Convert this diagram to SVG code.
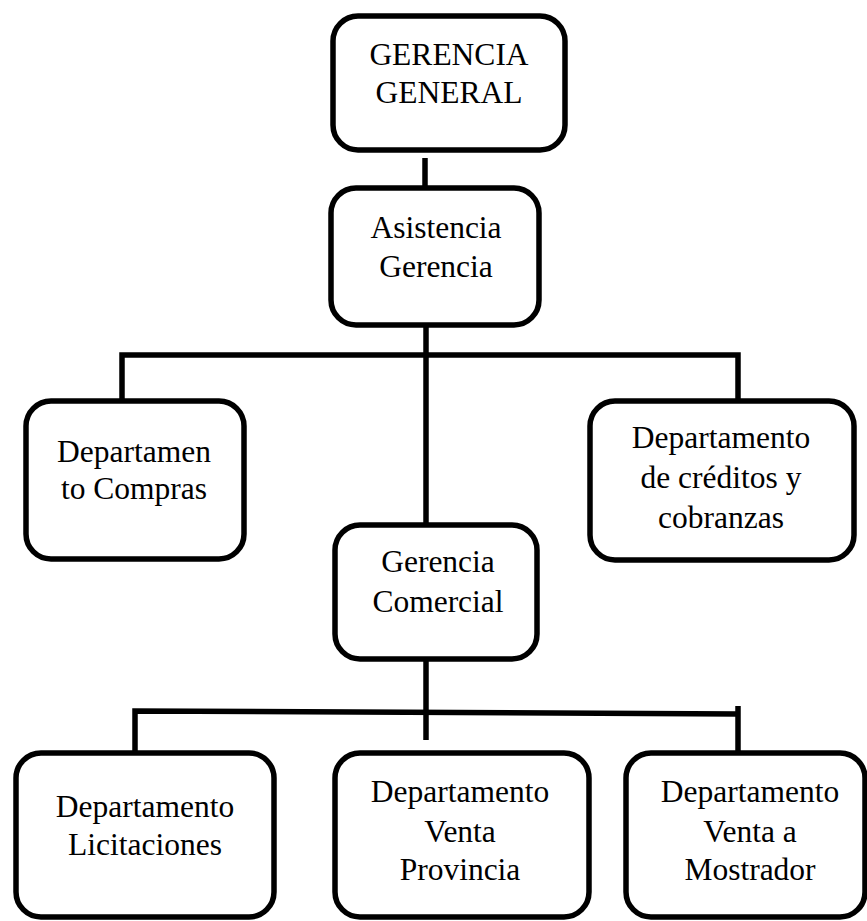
<svg xmlns="http://www.w3.org/2000/svg" width="867" height="921" viewBox="0 0 867 921">
<style>
.box{fill:#fff;stroke:#000;stroke-width:5.5}
.ln{stroke:#000;stroke-width:5.5;fill:none}
text{font-family:"Liberation Serif","Times New Roman",serif;font-size:31.5px;fill:#000;text-anchor:middle}
</style>
<rect width="867" height="921" fill="#fff"/>
<g id="connectors">
<line class="ln" x1="425" y1="158" x2="425" y2="200"/>
<line class="ln" x1="426" y1="326" x2="426" y2="524"/>
<polyline class="ln" points="122,400 122,355 738,355 738,400"/>
<line class="ln" x1="426" y1="660" x2="426" y2="740"/>
<polyline class="ln" points="135,752 135,711 738,714"/>
<line class="ln" x1="738" y1="706" x2="738" y2="752"/>
</g>
<g id="gerencia-general">
<rect class="box" x="333" y="16" width="232" height="134" rx="25"/>
<text x="449" y="65">GERENCIA</text>
<text x="449" y="103">GENERAL</text>
</g>
<g id="asistencia-gerencia">
<rect class="box" x="331" y="188" width="208" height="137" rx="25"/>
<text x="436" y="238">Asistencia</text>
<text x="436" y="277">Gerencia</text>
</g>
<g id="departamento-compras">
<rect class="box" x="26" y="401" width="218" height="158" rx="25"/>
<text x="134" y="462">Departamen</text>
<text x="134" y="499">to Compras</text>
</g>
<g id="departamento-creditos">
<rect class="box" x="590" y="401" width="264" height="159" rx="25"/>
<text x="721" y="448">Departamento</text>
<text x="721" y="488">de créditos y</text>
<text x="721" y="528">cobranzas</text>
</g>
<g id="gerencia-comercial">
<rect class="box" x="335" y="525" width="202" height="134" rx="25"/>
<text x="438" y="572">Gerencia</text>
<text x="438" y="612">Comercial</text>
</g>
<g id="departamento-licitaciones">
<rect class="box" x="16" y="753" width="258" height="164" rx="25"/>
<text x="145" y="817">Departamento</text>
<text x="145" y="855">Licitaciones</text>
</g>
<g id="departamento-venta-provincia">
<rect class="box" x="335" y="753" width="254" height="164" rx="25"/>
<text x="460" y="802">Departamento</text>
<text x="460" y="842">Venta</text>
<text x="460" y="880">Provincia</text>
</g>
<g id="departamento-venta-mostrador">
<rect class="box" x="626" y="753" width="239" height="164" rx="25"/>
<text x="750" y="802">Departamento</text>
<text x="750" y="842">Venta a</text>
<text x="750" y="880">Mostrador</text>
</g>
</svg>
